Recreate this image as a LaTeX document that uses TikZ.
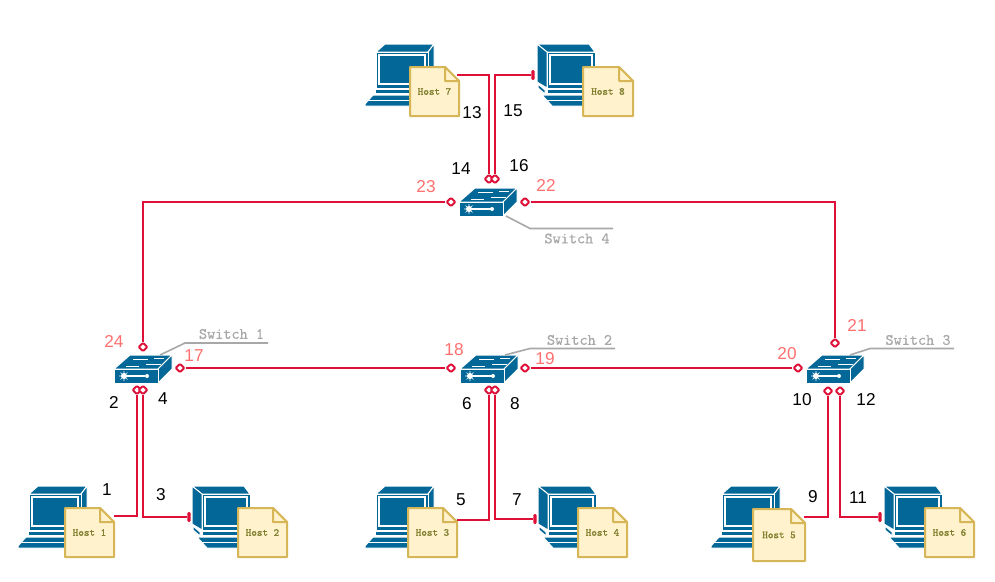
\documentclass[tikz,border=0pt]{standalone}
\usepackage{fontspec}
\setmainfont{Liberation Sans}
\newfontfamily\hostfont{Latin Modern Mono}[FakeBold=1.2]
\newfontfamily\swfont{Latin Modern Mono}[FakeBold=0.5]
\usetikzlibrary{shapes.geometric}
\definecolor{wire}{HTML}{DE1038}
\definecolor{cisco}{HTML}{036897}
\definecolor{notefill}{HTML}{FFF2CC}
\definecolor{noteline}{HTML}{D6B656}
\definecolor{hosttext}{HTML}{808030}
\definecolor{pink}{HTML}{FF7070}
\definecolor{leader}{HTML}{A8A8A8}
\tikzset{
  wireline/.style={draw=wire,line width=2.3pt},
  portd/.style={shape=diamond,draw=wire,fill=white,line width=1.9pt,minimum width=9.5pt,minimum height=9pt,inner sep=0pt,rounded corners=1pt},
  teeb/.style={shape=rectangle,fill=wire,minimum width=3.4pt,minimum height=10pt,inner sep=0pt,rounded corners=1.4pt},
  num/.style={font=\fontsize{17.2}{19}\selectfont,text=black,inner sep=0pt},
  pnum/.style={num,text=pink},
  swlabel/.style={font=\swfont\fontsize{15.8}{17}\selectfont,text=leader,inner sep=0pt},
  hostlabel/.style={font=\hostfont\fontsize{10.6}{12}\selectfont,text=hosttext,inner sep=0pt},
  leaderline/.style={draw=leader,line width=1.6pt},
  notebox/.style={fill=notefill,draw=noteline,line width=2pt,line join=round},
  pcblue/.style={fill=cisco,draw=white,line width=1pt,line join=round},
  pcline/.style={draw=white,line width=1.2pt},
}
% host note: name, x, y, w, h, text
\newcommand{\hostnote}[6]{%
  \path[notebox] (#2,#3) -- ++(#4-14,0) -- ++(14,14) -- ++(0,#5-14) -- ++(-#4,0) -- cycle;
  \path[notebox] (#2+#4-14,#3) -- ++(0,14) -- ++(14,0) -- cycle;
  \node[hostlabel,minimum width=#4 pt,minimum height=#5 pt] (#1) at (#2+#4/2,#3+#5/2) {#6};
}
% computer, front-left view: x,y = left edge of monitor, top
\newcommand{\pcA}[2]{%
  \begin{scope}[shift={(#1,#2)}]
    \path[pcblue] (0,8) -- (9,0) -- (58,0) -- (52,8) -- cycle;
    \path[pcblue] (52,8) -- (58,0) -- (58,36) -- (52,44) -- cycle;
    \path[pcblue] (0,8) rectangle (52,44);
    \path[pcline,fill=cisco] (3,11) rectangle (49,40);
    \fill[cisco] (0,45.5) rectangle (52,49);
    \draw[pcline] (0,44.5) -- (52,44.5);
    \path[pcblue] (-3,51) -- (46,51) -- (46,62) -- (-11,62) -- (-11,60) -- cycle;
    \draw[pcline] (-8,56.5) -- (46,56.5);
  \end{scope}}
% computer, front-right view
\newcommand{\pcB}[2]{%
  \begin{scope}[shift={(#1,#2)}]
    \path[pcblue] (0,0) -- (52,0) -- (58,8) -- (10,8) -- cycle;
    \path[pcblue] (0,0) -- (10,8) -- (10,44) -- (0,38) -- cycle;
    \path[pcblue] (10,8) rectangle (58,44);
    \path[pcline,fill=cisco] (13,11) rectangle (55,40);
    \path[pcblue] (1,40) -- (8,46) -- (8,50) -- (1,44) -- cycle;
    \fill[cisco] (11,46) rectangle (58,49);
    \path[pcblue] (5,51) -- (50,51) -- (50,62) -- (15,62) -- cycle;
    \draw[pcline] (10,56.5) -- (50,56.5);
  \end{scope}}
% switch: name, x, y = front top left corner
\newcommand{\switchicon}[3]{%
  \begin{scope}[shift={(#2,#3)}]
    \path[pcblue] (0,0) -- (16,-14) -- (58,-14) -- (44,0) -- cycle;
    \path[pcblue] (44,0) -- (58,-14) -- (58,0) -- (44,14) -- cycle;
    \path[pcblue] (0,0) rectangle (44,14);
    \draw[pcline] (10,7) -- (33,7);
    \fill[white] (10,7) circle (3pt) (33,7) circle (2pt);
    \draw[white,line width=.6pt] (5,7) -- (15,7) (10,2) -- (10,12) (6.5,3.5) -- (13.5,10.5) (6.5,10.5) -- (13.5,3.5);
    \draw[white,line width=1pt] (19,-10) -- (34,-10) (32,-5) -- (47,-5) (25,-3) -- (12,-3) (40,-11) -- (50,-11);
    \node[shape=rectangle,inner sep=0pt,minimum width=58pt,minimum height=28pt] (#1) at (29,0) {};
  \end{scope}}
\begin{document}
\begin{tikzpicture}[x=1pt,y=-1pt]
\useasboundingbox (0,0) rectangle (995,581);
\fill[white] (0,0) rectangle (995,581);

% computers
\pcA{29}{486}  \pcB{192}{486}
\pcA{376}{486} \pcB{538}{486}
\pcA{722}{486} \pcB{884}{486}
\pcA{376}{44}  \pcB{537}{44}

% notes
\hostnote{h1}{65}{508}{49}{49}{Host 1}
\hostnote{h2}{238}{508}{49}{49}{Host 2}
\hostnote{h3}{408}{508}{49}{49}{Host 3}
\hostnote{h4}{578}{508}{49}{49}{Host 4}
\hostnote{h5}{753}{509}{52}{52}{Host 5}
\hostnote{h6}{925}{508}{49}{49}{Host 6}
\hostnote{h7}{410}{67}{49}{49}{Host 7}
\hostnote{h8}{583}{67}{50}{49}{Host 8}

% switches
\switchicon{s1}{114}{369}
\switchicon{s2}{460}{369}
\switchicon{s3}{806}{369}
\switchicon{s4}{459}{202}

% port marks
\node[portd] (p2) at (137,390) {};
\node[portd] (p4) at (143,390) {};
\node[portd] (p6) at (489,390) {};
\node[portd] (p8) at (495,390) {};
\node[portd] (p10) at (828,391) {};
\node[portd] (p12) at (840,391) {};
\node[portd] (p14) at (489,179) {};
\node[portd] (p16) at (495,179) {};
\node[portd] (p17) at (180,368) {};
\node[portd] (p18) at (451,368) {};
\node[portd] (p19) at (525,368) {};
\node[portd] (p20) at (798,368) {};
\node[portd] (p21) at (835,343) {};
\node[portd] (p22) at (525,202) {};
\node[portd] (p23) at (451,202) {};
\node[portd] (p24) at (143,347) {};
\node[teeb] (t3) at (189,517) {};
\node[teeb] (t7) at (535,519) {};
\node[teeb] (t11) at (880,517) {};
\node[teeb] (t15) at (533,75) {};

% connectors
\draw[wireline] ([yshift=16.5pt]h1.east) -| (p2.south);
\draw[wireline] (p4.south) |- (t3.west);
\draw[wireline] ([yshift=12.5pt]h3.east) -| (p6.south);
\draw[wireline] (p8.south) |- (t7.west);
\draw[wireline] ([xshift=-1pt,yshift=18pt]h5.east) -| (p10.south);
\draw[wireline] (p12.south) |- (t11.west);
\draw[wireline] ([xshift=-2pt,yshift=16.5pt]h7.east) -| (p14.north);
\draw[wireline] (p16.north) |- (t15.west);
\draw[wireline] (p17) -- (p18);
\draw[wireline] (p19) -- (p20);
\draw[wireline] (p23.west) -| (p24.north);
\draw[wireline] (p22.east) -| (p21.north);

% switch leaders and labels
\node[swlabel] (l1) at (231.5,334) {Switch 1};
\node[swlabel] (l2) at (579.5,340) {Switch 2};
\node[swlabel] (l3) at (918,340) {Switch 3};
\node[swlabel] (l4) at (577,238.5) {Switch 4};
\coordinate (c1) at (268,343);
\coordinate (c2) at (615,348.5);
\coordinate (c3) at (954,348.5);
\coordinate (c4) at (613,228.5);
\draw[leaderline] ([xshift=17pt,yshift=14pt]s1.center) -- (185,343) -- (c1);
\draw[leaderline] ([xshift=16pt,yshift=14pt]s2.center) -- (530,348.5) -- (c2);
\draw[leaderline] ([xshift=15pt,yshift=14pt]s3.center) -- (870,348.5) -- (c3);
\draw[leaderline] ([xshift=18pt,yshift=-14pt]s4.center) -- (530,228.5) -- (c4);

% numbers
\node[num] at (107,490) {1};
\node[num] at (114,402) {2};
\node[num] at (161,495) {3};
\node[num] at (163,399) {4};
\node[num] at (461,500) {5};
\node[num] at (467,404) {6};
\node[num] at (517,500) {7};
\node[num] at (515,404) {8};
\node[num] at (813,497) {9};
\node[num] at (802,400) {10};
\node[num] at (858,498) {11};
\node[num] at (866,399) {12};
\node[num] at (472,113) {13};
\node[num] at (461,169) {14};
\node[num] at (513,111) {15};
\node[num] at (519,166) {16};
\node[pnum] at (194,356) {17};
\node[pnum] at (454,350) {18};
\node[pnum] at (545,359) {19};
\node[pnum] at (787,354) {20};
\node[pnum] at (857,325) {21};
\node[pnum] at (546,185) {22};
\node[pnum] at (426,187) {23};
\node[pnum] at (114,341) {24};
\end{tikzpicture}
\end{document}
